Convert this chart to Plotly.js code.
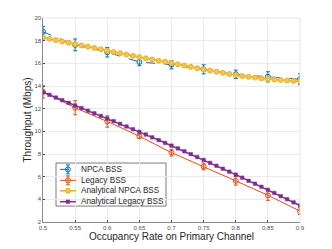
<!DOCTYPE html>
<html><head><meta charset="utf-8">
<script src="https://cdn.plot.ly/plotly-3.0.1.min.js"></script>
<style>html,body{margin:0;padding:0;background:#fff}#c{width:332px;height:249px}</style>
</head><body><div id="c"></div>
<script>
const simX = [0.5,0.55,0.6,0.65,0.7,0.75,0.8,0.85,0.9];
const npcaSim = [18.78,17.63,16.98,16.12,15.88,15.47,15.03,14.81,14.60];
const npcaErr = [0.47,0.52,0.42,0.33,0.37,0.40,0.37,0.45,0.49];
const legacySim = [13.48,12.08,10.87,9.57,8.12,6.90,5.63,4.36,2.96];
const legacyErr = [0.55,0.62,0.50,0.20,0.30,0.30,0.37,0.45,0.30];
const anaX = [0.50,0.51,0.52,0.53,0.54,0.55,0.56,0.57,0.58,0.59,0.60,0.61,0.62,0.63,0.64,0.65,0.66,0.67,0.68,0.69,0.70,0.71,0.72,0.73,0.74,0.75,0.76,0.77,0.78,0.79,0.80,0.81,0.82,0.83,0.84,0.85,0.86,0.87,0.88,0.89,0.90];
const npcaAna = [18.28,18.16,18.05,17.93,17.82,17.70,17.58,17.47,17.35,17.24,17.12,17.00,16.89,16.77,16.66,16.55,16.44,16.34,16.23,16.13,16.03,15.91,15.80,15.69,15.57,15.46,15.36,15.26,15.16,15.06,14.96,14.88,14.81,14.74,14.68,14.62,14.57,14.53,14.49,14.45,14.42];
const legacyAna = [13.45,13.22,12.98,12.75,12.51,12.28,12.05,11.82,11.59,11.36,11.13,10.90,10.66,10.43,10.19,9.96,9.72,9.47,9.23,8.98,8.74,8.49,8.24,7.99,7.73,7.48,7.22,6.96,6.70,6.44,6.18,5.91,5.64,5.38,5.11,4.84,4.56,4.28,4.01,3.73,3.45];
const xTicks = [0.5,0.55,0.6,0.65,0.7,0.75,0.8,0.85,0.9];
const xTickText = ['0.5','0.55','0.6','0.65','0.7','0.75','0.8','0.85','0.9'];
const yTicks = [2,4,6,8,10,12,14,16,18,20];
const seriesNames = ['NPCA BSS','Legacy BSS','Analytical NPCA BSS','Analytical Legacy BSS'];

const blue='#0072BD', orange='#D95319', yellow='#EDB120', purple='#7E2F8E';
const styles = [
 {line:{color:blue,width:1,dash:'dash'},marker:{symbol:'circle-open',size:5,color:blue,line:{width:1,color:blue}},err:true},
 {line:{color:orange,width:1},marker:{symbol:'circle-open',size:5,color:orange,line:{width:1,color:orange}},err:true},
 {line:{color:yellow,width:1.5},marker:{symbol:'circle',size:5,color:'#F3C45A',line:{width:1,color:yellow}},err:false},
 {line:{color:purple,width:1.5},marker:{symbol:'square',size:3.5,color:purple,line:{width:0.5,color:purple}},err:false}
];
const traces = [
 {x:simX,y:npcaSim,name:seriesNames[0],mode:'lines+markers',line:styles[0].line,marker:styles[0].marker,
  error_y:{type:'data',array:npcaErr,visible:true,color:blue,thickness:1,width:2}},
 {x:simX,y:legacySim,name:seriesNames[1],mode:'lines+markers',line:styles[1].line,marker:styles[1].marker,
  error_y:{type:'data',array:legacyErr,visible:true,color:orange,thickness:1,width:2}},
 {x:anaX,y:npcaAna,name:seriesNames[2],mode:'lines+markers',line:styles[2].line,marker:styles[2].marker},
 {x:anaX,y:legacyAna,name:seriesNames[3],mode:'lines+markers',line:styles[3].line,marker:styles[3].marker}
];
// compact legend drawn on overlay axes (0..1 units)
const legRows = [0.258,0.204,0.153,0.0995];
const annotations = [];
seriesNames.forEach((n,i)=>{
  const s = styles[i];
  traces.push({x:[0.066,0.128],y:[legRows[i],legRows[i]],xaxis:'x2',yaxis:'y2',mode:'lines',
    line:s.line,showlegend:false,hoverinfo:'skip'});
  const mk = {x:[0.097],y:[legRows[i]],xaxis:'x2',yaxis:'y2',mode:'markers',marker:s.marker,showlegend:false,hoverinfo:'skip'};
  if(s.err) mk.error_y={type:'constant',value:0.022,visible:true,color:s.line.color,thickness:1,width:2};
  traces.push(mk);
  annotations.push({xref:'x2',yref:'y2',x:0.140,y:legRows[i],text:n,showarrow:false,xanchor:'left',yanchor:'middle',
    font:{size:8.2,color:'#262626'}});
});
const layout = {
 width:332,height:249,
 margin:{l:43,r:32,t:18,b:27},
 paper_bgcolor:'#fff',plot_bgcolor:'#fff',
 font:{family:'Liberation Sans, Arial, sans-serif',color:'#262626'},
 showlegend:false,
 annotations:annotations,
 xaxis:{range:[0.5,0.9],tickvals:xTicks,ticktext:xTickText,
   showgrid:true,gridcolor:'#ebebeb',gridwidth:1,zeroline:false,
   showline:true,linecolor:'#404040',linewidth:0.6,mirror:false,
   ticks:'inside',ticklen:2,tickcolor:'#404040',
   tickfont:{size:6,color:'#4d4d4d'},
   title:{text:'Occupancy Rate on Primary Channel',font:{size:10,color:'#262626'},standoff:2}},
 yaxis:{range:[2,20],tickvals:yTicks,
   showgrid:true,gridcolor:'#ebebeb',gridwidth:1,zeroline:false,
   showline:true,linecolor:'#404040',linewidth:0.6,mirror:false,
   ticks:'inside',ticklen:2,tickcolor:'#404040',
   tickfont:{size:6,color:'#4d4d4d'},
   title:{text:'Throughput (Mbps)',font:{size:10,color:'#262626'},standoff:0}},
 xaxis2:{overlaying:'x',anchor:'y2',range:[0,1],visible:false,fixedrange:true},
 yaxis2:{overlaying:'y',anchor:'x2',range:[0,1],visible:false,fixedrange:true},
 shapes:[
  {type:'line',xref:'paper',yref:'paper',x0:0,x1:1,y0:1,y1:1,line:{color:'#e6e6e6',width:1}},
  {type:'line',xref:'paper',yref:'paper',x0:1,x1:1,y0:0,y1:1,line:{color:'#e6e6e6',width:1}},
  {type:'rect',xref:'paper',yref:'paper',x0:0.0506,x1:0.4786,y0:0.078,y1:0.289,layer:'between',
   fillcolor:'#fff',line:{color:'#262626',width:0.6}}
 ]
};
Plotly.newPlot('c',traces,layout,{displayModeBar:false,staticPlot:true});
</script></body></html>
